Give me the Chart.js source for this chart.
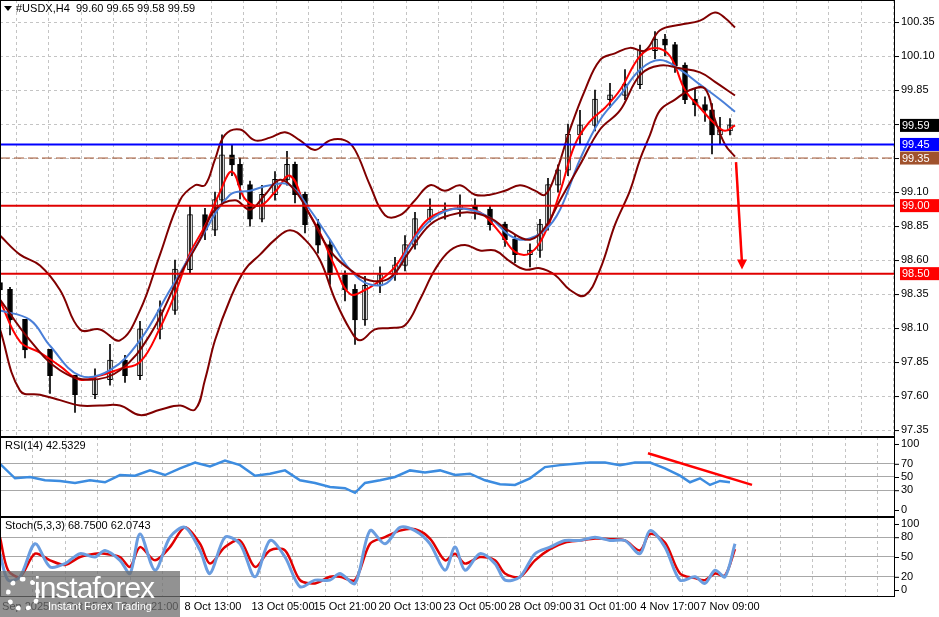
<!DOCTYPE html>
<html><head><meta charset="utf-8">
<script src="https://cdn.jsdelivr.net/npm/chart.js@4.4.1/dist/chart.umd.min.js"></script>
<style>
body{margin:0;background:#fff;width:939px;height:617px;overflow:hidden;position:relative;font-family:"Liberation Sans",sans-serif}
canvas{position:absolute;left:0}
#wm{position:absolute;left:0;top:571px;width:180px;height:46px;background:rgba(110,110,110,0.75);color:#fff}
</style></head><body>
<canvas id="c1" style="top:0" width="939" height="437"></canvas>
<canvas id="c2" style="top:437px" width="939" height="80"></canvas>
<canvas id="c3" style="top:517px" width="939" height="100"></canvas>
<div id="wm"><div style="position:absolute;left:34px;top:0px;font-size:30px;letter-spacing:-1px">instaforex</div><div style="position:absolute;left:48px;top:29px;font-size:11px">Instant Forex Trading</div><div style="position:absolute;left:6px;top:6px;width:24px;height:24px;border:5px dotted #fff;border-radius:50%"></div></div>
<script>
// ---- data ----
const candleX=[0,10,25,50,75,95,110,125,140,160,175,190,205,215,222,232,240,250,262,275,287,295,305,318,330,345,355,365,380,395,405,415,430,445,460,475,490,505,515,530,540,548,558,568,580,595,610,625,640,655,665,675,685,695,705,712,720,730];
const closes=[98.38,98.16,97.94,97.75,97.61,97.72,97.86,97.75,98.09,98.23,98.53,98.93,98.82,99.04,99.37,99.30,99.15,98.90,99.08,99.19,99.30,99.08,98.86,98.71,98.49,98.38,98.16,98.41,98.49,98.56,98.71,98.90,98.97,98.97,99.00,98.97,98.86,98.75,98.64,98.67,98.86,99.15,99.26,99.52,99.59,99.78,99.81,99.89,100.14,100.22,100.18,100.03,99.78,99.74,99.70,99.52,99.55,99.59];
const highs=[98.45,98.40,98.10,97.90,97.72,97.80,97.98,97.90,98.15,98.30,98.60,99.00,98.98,99.10,99.52,99.45,99.35,99.18,99.15,99.25,99.40,99.32,99.10,98.90,98.75,98.52,98.42,98.48,98.55,98.62,98.78,98.95,99.05,99.02,99.08,99.05,99.00,98.88,98.78,98.72,98.90,99.20,99.30,99.60,99.70,99.85,99.90,100.00,100.18,100.28,100.26,100.20,100.05,99.86,99.80,99.75,99.65,99.64];
const lows=[98.20,98.05,97.88,97.62,97.48,97.58,97.68,97.70,97.72,98.02,98.20,98.50,98.75,98.78,99.00,99.22,99.05,98.85,98.88,99.04,99.15,99.02,98.80,98.65,98.42,98.30,97.98,98.12,98.36,98.45,98.52,98.68,98.88,98.90,98.92,98.90,98.82,98.70,98.58,98.55,98.62,98.82,99.10,99.22,99.45,99.55,99.72,99.78,99.86,100.08,100.10,99.98,99.75,99.66,99.62,99.38,99.45,99.52];
const upperX=[0,20,40,60,80,100,120,140,160,180,195,205,215,225,240,255,270,285,300,315,330,345,355,370,385,400,415,430,445,460,475,490,505,520,535,545,555,570,585,600,615,630,645,660,680,700,715,725,735];
const upper=[98.78,98.64,98.56,98.38,98.09,98.09,98.01,98.23,98.64,99.04,99.15,99.15,99.34,99.52,99.56,99.48,99.50,99.54,99.48,99.41,99.48,99.48,99.41,99.15,98.93,98.93,99.04,99.15,99.11,99.15,99.08,99.08,99.11,99.15,99.11,99.08,99.22,99.56,99.85,100.07,100.12,100.16,100.14,100.29,100.33,100.36,100.42,100.38,100.31];
const lowerX=[0,20,40,60,80,100,120,140,160,180,195,205,215,230,245,260,275,290,305,320,335,350,360,375,390,405,420,435,450,465,480,495,510,525,540,555,570,585,600,615,630,640,650,660,675,690,705,715,725,735];
const lower=[98.09,97.64,97.61,97.57,97.53,97.53,97.53,97.46,97.50,97.53,97.50,97.72,98.01,98.31,98.53,98.64,98.75,98.82,98.75,98.60,98.31,98.09,98.01,98.09,98.10,98.12,98.31,98.53,98.67,98.71,98.67,98.67,98.59,98.53,98.54,98.49,98.38,98.34,98.53,98.86,99.11,99.34,99.52,99.70,99.78,99.85,99.86,99.63,99.45,99.36];
const midX=[0,30,60,90,120,150,180,200,215,235,250,265,280,295,310,330,350,370,390,410,430,450,470,490,510,530,545,560,580,600,620,640,660,680,700,715,735];
const mid=[98.31,98.01,97.79,97.72,97.79,98.05,98.49,98.75,98.97,99.04,98.97,99.08,99.19,99.11,98.93,98.67,98.53,98.45,98.47,98.67,98.86,98.93,98.95,98.91,98.81,98.75,98.84,99.04,99.30,99.56,99.70,99.96,100.03,100.01,99.98,99.91,99.81];
const blueX=[0,30,50,80,110,140,170,200,230,250,270,290,310,330,350,370,390,410,430,450,470,490,510,525,545,560,580,600,620,640,660,680,700,720,735];
const blueMA=[98.23,98.16,97.97,97.75,97.79,98.01,98.38,98.75,99.08,99.11,99.15,99.15,98.97,98.75,98.53,98.42,98.45,98.71,98.89,98.97,98.97,98.91,98.78,98.75,98.82,98.97,99.34,99.63,99.81,100.0,100.07,100.0,99.89,99.78,99.69];
const redX=[0,20,40,60,80,100,120,140,160,175,190,205,220,232,245,260,275,290,305,320,335,350,365,380,395,410,425,440,460,480,500,515,530,545,560,575,590,605,620,640,655,670,685,700,715,725,735];
const redMA=[98.30,98.00,97.92,97.82,97.72,97.75,97.80,97.85,98.10,98.35,98.65,98.85,99.10,99.25,99.05,99.00,99.10,99.22,99.00,98.80,98.55,98.35,98.38,98.45,98.55,98.72,98.88,98.95,98.98,98.95,98.80,98.66,98.65,98.80,99.10,99.45,99.62,99.72,99.85,100.10,100.16,100.10,99.85,99.72,99.60,99.55,99.59];
const rsiX=[0,15,30,45,60,75,90,105,120,135,150,165,180,195,210,225,240,255,270,285,300,315,330,345,355,365,380,395,410,425,440,455,470,485,500,515,530,545,560,575,590,605,620,635,650,665,680,690,700,710,720,730];
const rsi=[70,48,50,45,44,41,45,42,53,52,60,53,63,72,66,75,68,52,55,60,45,41,35,33,26,41,45,50,60,57,60,53,55,45,39,38,48,65,68,70,72,72,68,72,72,63,52,42,48,38,44,42];
const stochX=[0,8,20,35,50,65,80,95,105,120,130,140,155,170,185,200,210,225,240,255,270,285,300,315,330,340,355,370,385,400,415,430,445,455,465,480,495,505,520,535,550,565,580,595,610,625,640,650,665,680,695,705,715,725,735];
const stochK=[55,15,20,70,35,40,55,50,60,45,25,85,30,80,95,60,25,80,70,20,75,50,5,15,15,25,10,90,70,95,90,70,30,65,30,55,40,15,20,55,65,75,75,80,75,75,55,90,65,15,20,10,30,20,70];
const stochD=[80,30,20,55,45,38,50,55,55,50,35,65,45,65,95,70,40,65,75,35,60,60,15,10,20,20,15,70,80,90,92,78,45,55,40,50,45,25,20,45,62,72,75,78,77,75,60,85,72,25,18,15,25,22,62];
const priceTicks=[97.35,97.60,97.85,98.10,98.35,98.60,98.85,99.10,99.35,99.60,99.85,100.10,100.35];
const rsiTicks=[0,30,50,70,100];
const stochTicks=[0,20,50,80,100];
const dateLabels=[[18,'26 Sep 2025'],[85,'1 Oct 05:00'],[150,'3 Oct 21:00'],[213,'8 Oct 13:00'],[283,'13 Oct 05:00'],[345,'15 Oct 21:00'],[410,'20 Oct 13:00'],[475,'23 Oct 05:00'],[540,'28 Oct 09:00'],[605,'31 Oct 01:00'],[670,'4 Nov 17:00'],[730,'7 Nov 09:00']];
const levels=[[99.45,'#0000ff'],[99.35,'#a0522d'],[99.00,'#e00000'],[98.50,'#e00000']];
const boxes=[[99.59,'#000','#fff'],[99.45,'#0000ff','#fff'],[99.35,'#a0522d','#fff'],[99.00,'#ff0000','#fff'],[98.50,'#ff0000','#fff']];

// ---- helpers ----
const zip=(xs,ys)=>xs.map((x,i)=>({x,y:ys[i]}));
const F='"Liberation Sans"';
const opens=closes.map((c,i)=>i?closes[i-1]:c+0.05);
const xScale=()=>({type:'linear',min:0,max:895,offset:false,
  afterBuildTicks:a=>{a.ticks=[];for(let v=32.5;v<895;v+=32.5)a.ticks.push({value:v});},
  grid:{color:'#c4c4c4',drawTicks:false},border:{display:false,dash:[3,3]},
  ticks:{display:false}});
const yBase=(min,max,ticks,gridFn,dash)=>({position:'right',min,max,
  afterFit:a=>{a.width=44;},
  afterBuildTicks:a=>{a.ticks=ticks.map(v=>({value:v}));},
  border:{display:false,dash:dash},
  grid:{color:gridFn,drawTicks:false},
  ticks:{display:false}});
const yLabels=(fmt,ticks)=>({id:'yl',afterDraw(c){const g=c.ctx,y=c.scales.y,a=c.chartArea;g.save();g.fillStyle='#000';g.strokeStyle='#000';g.font='11px '+F;g.textBaseline='middle';
  ticks.forEach(v=>{const py=y.getPixelForValue(v);g.beginPath();g.moveTo(a.right,py+0.5);g.lineTo(a.right+4,py+0.5);g.stroke();g.fillText(fmt(v),a.right+6,py);});g.restore();}});
const line=(data,color,w,extra)=>Object.assign({type:'line',data,borderColor:color,borderWidth:w,pointRadius:0,tension:0.4,fill:false},extra||{});
Chart.defaults.animation=false;
Chart.defaults.plugins.legend.display=false;
Chart.defaults.plugins.tooltip.enabled=false;
const frame={id:'frame',afterDraw(c){const a=c.chartArea,g=c.ctx;g.save();g.strokeStyle='#000';g.lineWidth=1;g.strokeRect(a.left+0.5,a.top+0.5,a.right-a.left-1,a.bottom-a.top-1);g.restore();}};

// main chart
const mainPlug={id:'mp',afterDraw(c){const g=c.ctx,x=c.scales.x,y=c.scales.y;g.save();
  g.strokeStyle='#ff0000';g.fillStyle='#ff0000';g.lineWidth=2.5;
  const x1=x.getPixelForValue(736),y1=y.getPixelForValue(99.32),x2=x.getPixelForValue(742),y2=y.getPixelForValue(98.53);
  g.beginPath();g.moveTo(x1,y1);g.lineTo(x2,y2-6);g.stroke();
  g.beginPath();g.moveTo(x2,y2);g.lineTo(x2-5,y2-10);g.lineTo(x2+5,y2-10);g.closePath();g.fill();
  g.fillStyle='#000';g.font='11px '+F;g.textBaseline='middle';
  g.beginPath();g.moveTo(4,6);g.lineTo(12,6);g.lineTo(8,11);g.closePath();g.fill();
  g.fillText('#USDX,H4  99.60 99.65 99.58 99.59',16,9);
  boxes.forEach(([v,bg,fg])=>{const py=y.getPixelForValue(v);g.fillStyle=bg;g.fillRect(900,py-6.5,39,13);g.fillStyle=fg;g.fillText(v.toFixed(2),902,py+0.5);});
  g.restore();}};
new Chart(document.getElementById('c1'),{type:'bar',
  data:{datasets:[
    ...levels.map(([v,col])=>line([{x:0,y:v},{x:895,y:v}],col,v===99.35?1:2,{tension:0,borderDash:v===99.35?[10,4]:[]})),
    line(zip(upperX,upper),'#800000',2),
    line(zip(lowerX,lower),'#800000',2),
    line(zip(midX,mid),'#800000',2),
    line(zip(blueX,blueMA),'#4a7fd8',2),
    line(zip(redX,redMA),'#ff0000',2),
    {type:'bar',data:candleX.map((cx,i)=>({x:cx,y:[lows[i],highs[i]]})),backgroundColor:'#000',barThickness:1,grouped:false},
    {type:'bar',data:candleX.map((cx,i)=>({x:cx,y:[Math.min(opens[i],closes[i]),Math.max(opens[i],closes[i])+0.004]})),
      backgroundColor:candleX.map((_,i)=>closes[i]>=opens[i]?'#fff':'#000'),borderColor:'#000',borderWidth:1,borderSkipped:false,barThickness:5,grouped:false}
  ]},
  options:{responsive:false,layout:{padding:0},
    scales:{x:xScale(),y:yBase(97.299,100.512,priceTicks,()=>'#c4c4c4',[3,3])}},
  plugins:[yLabels(v=>v.toFixed(2),priceTicks),mainPlug,frame]});
// RSI
const rsiPlug={id:'rp',afterDraw(c){const g=c.ctx;g.save();g.fillStyle='#000';g.font='11px '+F;g.textBaseline='middle';g.fillText('RSI(14) 42.5329',5,9);g.restore();}};
const lvlGrid=lv=>ctx=>lv.includes(ctx.tick&&ctx.tick.value)?'#a8a8a8':'rgba(0,0,0,0)';
new Chart(document.getElementById('c2'),{type:'line',
  data:{datasets:[
    line(zip(rsiX,rsi),'#3c8ce0',2.5,{tension:0}),
    line([{x:648,y:86},{x:752,y:38}],'#ff0000',2.5,{tension:0})
  ]},
  options:{responsive:false,layout:{padding:0},
    scales:{x:xScale(),y:yBase(-10.6,110.6,rsiTicks,lvlGrid([30,50,70]),[])}},
  plugins:[yLabels(String,rsiTicks),rsiPlug,frame]});
// Stoch
const stPlug={id:'sp',afterDraw(c){const g=c.ctx,x=c.scales.x;g.save();g.fillStyle='#000';g.font='11px '+F;g.textBaseline='middle';g.fillText('Stoch(5,3,3) 68.7500 62.0743',5,9);
  g.textAlign='center';dateLabels.forEach(([v,t])=>g.fillText(t,x.getPixelForValue(v),c.chartArea.bottom+10));g.restore();}};
new Chart(document.getElementById('c3'),{type:'line',
  data:{datasets:[
    line(zip(stochX,stochK),'#6a9de0',3,{tension:0.3}),
    line(zip(stochX,stochD),'#e00000',2.5,{tension:0.3})
  ]},
  options:{responsive:false,layout:{padding:{bottom:20}},
    scales:{x:xScale(),y:yBase(-10.6,110.6,stochTicks,lvlGrid([20,50,80]),[])}},
  plugins:[yLabels(String,stochTicks),stPlug,frame]});
</script></body></html>
